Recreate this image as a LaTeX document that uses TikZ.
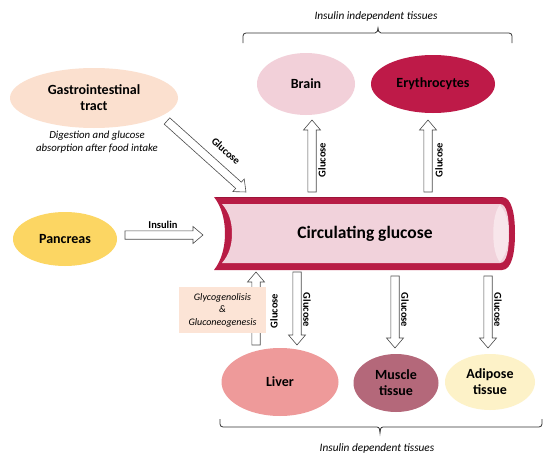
\documentclass[tikz,border=0pt]{standalone}
\usepackage{fontspec}
\setmainfont{Carlito}
\usetikzlibrary{calc,shapes.geometric}
\definecolor{giC}{HTML}{FBE0CF}
\definecolor{brainC}{HTML}{F2D0D9}
\definecolor{eryC}{HTML}{BE1A48}
\definecolor{panC}{HTML}{FCD663}
\definecolor{livC}{HTML}{EE9A9A}
\definecolor{musC}{HTML}{B4687A}
\definecolor{adiC}{HTML}{FDF2C8}
\definecolor{glyC}{HTML}{FCE4D6}
\definecolor{bandC}{HTML}{B81C45}
\definecolor{bandD}{HTML}{9C1438}
\definecolor{innerC}{HTML}{F1D2DB}
\definecolor{hlC}{HTML}{F8E6EB}
\newcommand\harrow[2]{%
  \draw[hollow] let \p1=($(#2)-(#1)$), \n1={atan2(\y1,\x1)}, \n2={veclen(\x1,\y1)} in
    [shift={(#1)}, rotate=\n1] (0,-4.2) -- ({\n2-10},-4.2) -- ({\n2-10},-8.5) -- (\n2,0)
    -- ({\n2-10},8.5) -- ({\n2-10},4.2) -- (0,4.2) -- cycle;}
\begin{document}
\begin{tikzpicture}[x=1pt,y=-1pt,
  blob/.style={ellipse, inner sep=0pt, font=\bfseries\fontsize{14}{16}\selectfont, align=center},
  hollow/.style={draw=black!70, fill=white, line width=0.6pt, line join=miter},
  glu/.style={font=\bfseries\fontsize{10.5}{12}\selectfont, inner sep=0pt},
  captext/.style={font=\itshape\fontsize{11.3}{13}\selectfont, inner sep=0pt},
  bracestyle/.style={draw=black!80, line width=0.8pt}]
\useasboundingbox (0,0) rectangle (550,463);
\fill[white] (0,0) rectangle (550,463);

% tube
\fill[bandC] (214,197) -- (502,197) .. controls (512,197) and (515,215) .. (515,233.5)
  .. controls (515,252) and (512,270) .. (502,270) -- (214,270)
  .. controls (222,260) and (225,246) .. (225,233.5)
  .. controls (225,221) and (222,207) .. (214,197) -- cycle;
\draw[bandD, line width=0.8pt] (216,197.5) -- (502,197.5);
\fill[innerC] (222,204) -- (500,204) .. controls (507,204) and (509,218) .. (509,233.5)
  .. controls (509,249) and (507,263) .. (500,263) -- (222,263)
  .. controls (229,255) and (232,245) .. (232,233.5)
  .. controls (232,222) and (229,212) .. (222,204) -- cycle;
\fill[hlC] (500,205) .. controls (491,214) and (491,253) .. (500,262)
  .. controls (507,253) and (508.5,245) .. (508.5,233.5)
  .. controls (508.5,222) and (507,214) .. (500,205) -- cycle;
\node[font=\bfseries\fontsize{17.5}{20}\selectfont] (tube) at (365,234) {Circulating glucose};

% organs
\node[blob, fill=giC, minimum width=168, minimum height=60] (gi) at (94,98) {Gastrointestinal\\tract};
\node[font=\itshape\fontsize{10.8}{13}\selectfont, align=center, inner sep=0pt] (dig) at (97,142) {Digestion and glucose\\absorption after food intake};
\node[blob, fill=brainC, minimum width=98, minimum height=62] (brain) at (306,84) {Brain};
\node[blob, fill=eryC, minimum width=124, minimum height=58] (ery) at (433,84) {Erythrocytes};
\node[blob, fill=panC, minimum width=104, minimum height=54] (pan) at (65,239) {Pancreas};
\node[blob, fill=livC, minimum width=117, minimum height=68] (liver) at (280,382) {Liver};
\node[blob, fill=musC, minimum width=85, minimum height=58] (muscle) at (396,383) {Muscle\\tissue};
\node[blob, fill=adiC, minimum width=90, minimum height=56] (adipose) at (490,382) {Adipose\\tissue};

% arrow end points
\coordinate (giA) at (167,121);   \coordinate (giB) at (246,192);
\coordinate (inA) at (125,235);   \coordinate (inB) at (203,235);
\coordinate (brA) at (312,192);   \coordinate (brB) at (312,120);
\coordinate (erA) at (428,192);   \coordinate (erB) at (428,120);
\coordinate (glA) at (256,345);   \coordinate (glB) at (256,272);
\coordinate (lvA) at (297,272);   \coordinate (lvB) at (297,345);
\coordinate (muA) at (395,276);   \coordinate (muB) at (395,348);
\coordinate (adA) at (488,276);   \coordinate (adB) at (488,348);
\harrow{giA}{giB}
\harrow{inA}{inB}
\harrow{brA}{brB}
\harrow{erA}{erB}
\harrow{glA}{glB}
\harrow{lvA}{lvB}
\harrow{muA}{muB}
\harrow{adA}{adB}

\node[fill=glyC, minimum width=87, minimum height=46, inner sep=0pt, align=center,
  font=\itshape\fontsize{10}{12.5}\selectfont] (gly) at (222.5,310) {Glycogenolisis\\\&\\Gluconeogenesis};

% arrow labels
\node[glu, rotate=-42] (l1) at (226,151) {Glucose};
\node[glu] (l2) at (163,225) {Insulin};
\node[glu, rotate=90] (l3) at (322,160) {Glucose};
\node[glu, rotate=90] (l4) at (439,160) {Glucose};
\node[glu, rotate=90] (l5) at (274,311) {Glucose};
\node[glu, rotate=-90] (l6) at (307,310) {Glucose};
\node[glu, rotate=-90] (l7) at (405,310) {Glucose};
\node[glu, rotate=-90] (l8) at (498,310) {Glucose};

% braces
\draw[bracestyle] (243,43) -- (243,36) to[out=90,in=180] (246,33) -- (375,33)
  to[out=0,in=-90] (378,28) to[out=-90,in=180] (381,33) -- (509,33)
  to[out=0,in=90] (512,36) -- (512,43);
\node[captext] (top) at (376,16) {Insulin independent tissues};
\draw[bracestyle] (220,419) -- (220,424) to[out=-90,in=180] (223,427) -- (377,427)
  to[out=0,in=90] (380,433) to[out=90,in=180] (383,427) -- (539,427)
  to[out=0,in=-90] (542,424) -- (542,419);
\node[captext] (bot) at (377,448) {Insulin dependent tissues};
\end{tikzpicture}
\end{document}
